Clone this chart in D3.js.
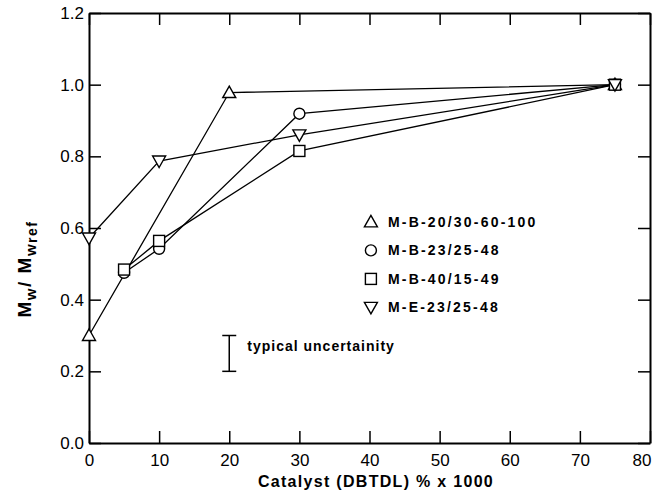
<!DOCTYPE html>
<html>
<head>
<meta charset="utf-8">
<script src="https://cdn.jsdelivr.net/npm/d3@7"></script>
<style>
    body { margin: 0; background: #fff; }
    text { font-family: "Liberation Sans", Arial, sans-serif; fill: #000; }
</style>
</head>
<body>
<div id="chart"></div>
<script>
// data
const seriesNames = ["M-B-20/30-60-100", "M-B-23/25-48", "M-B-40/15-49", "M-E-23/25-48"];
const seriesSymbols = ["triangle", "circle", "square", "triangleDown"];
const triX = [0, 20, 75];
const triY = [0.30, 0.978, 1.0];
const circX = [5, 10, 30, 75];
const circY = [0.475, 0.542, 0.919, 1.0];
const sqX = [5, 10, 30, 75];
const sqY = [0.484, 0.564, 0.815, 1.0];
const invX = [0, 10, 30, 75];
const invY = [0.572, 0.787, 0.86, 1.0];
const xTicks = [0, 10, 20, 30, 40, 50, 60, 70, 80];
const yTicks = [0.0, 0.2, 0.4, 0.6, 0.8, 1.0, 1.2];
const errX = 20, errLow = 0.2, errHigh = 0.3;

const margin = {top: 13, right: 5, bottom: 56, left: 89},
    width = 655 - margin.left - margin.right,
    height = 499 - margin.top - margin.bottom;

const svg = d3.select("#chart")
    .append("svg")
    .attr("width", 655)
    .attr("height", 499)
    .append("g")
    .attr("transform", `translate(${margin.left}, ${margin.top})`);

const x = d3.scaleLinear().domain([0, 80]).range([0, width]);
const y = d3.scaleLinear().domain([0, 1.2]).range([height, 0]);

// axes, ticks pointing inward on all four sides
svg.append("g")
    .attr("transform", `translate(0, ${height})`)
    .call(d3.axisBottom(x).tickValues(xTicks).tickSizeInner(-12).tickSizeOuter(0).tickPadding(11).tickFormat(d3.format("d")))
    .call(g => g.selectAll("text").style("font-size", "17px"))
    .call(g => g.selectAll(".tick").filter(d => d === 80).select("text").attr("text-anchor", "end").attr("x", 1));
svg.append("g")
    .call(d3.axisTop(x).tickValues(xTicks).tickSizeInner(-12).tickSizeOuter(0).tickFormat(""));
svg.append("g")
    .call(d3.axisLeft(y).tickValues(yTicks).tickSizeInner(-12).tickSizeOuter(0).tickPadding(5).tickFormat(d3.format(".1f")))
    .call(g => g.selectAll("text").style("font-size", "17px"));
svg.append("g")
    .attr("transform", `translate(${width}, 0)`)
    .call(d3.axisRight(y).tickValues(yTicks).tickSizeInner(-12).tickSizeOuter(0).tickFormat(""));

svg.selectAll(".domain").attr("stroke-width", 2).attr("stroke", "#000");
svg.selectAll(".tick line").attr("stroke-width", 1.5).attr("stroke", "#000");
svg.selectAll(".tick text").style("font-family", "'Liberation Sans', Arial, sans-serif");

// series
const series = [
    {name: seriesNames[0], sym: seriesSymbols[0], xs: triX, ys: triY},
    {name: seriesNames[1], sym: seriesSymbols[1], xs: circX, ys: circY},
    {name: seriesNames[2], sym: seriesSymbols[2], xs: sqX, ys: sqY},
    {name: seriesNames[3], sym: seriesSymbols[3], xs: invX, ys: invY}
];

const line = d3.line()
    .x(d => x(d[0]))
    .y(d => y(d[1]));

series.forEach(s => {
    const pts = s.xs.map((v, i) => [v, s.ys[i]]);
    svg.append("path")
        .datum(pts)
        .attr("fill", "none")
        .attr("stroke", "#000")
        .attr("stroke-width", 1.3)
        .attr("d", line);
});

function marker(g, sym) {
    if (sym === "circle") {
        g.append("circle").attr("r", 5.5);
    } else if (sym === "square") {
        g.append("rect").attr("x", -5.5).attr("y", -5.5).attr("width", 11).attr("height", 11);
    } else if (sym === "triangle") {
        g.append("path").attr("d", "M0,-6.5L6.5,5L-6.5,5Z");
    } else {
        g.append("path").attr("d", "M0,6.5L6.5,-5L-6.5,-5Z");
    }
    g.selectAll("*").attr("fill", "#fff").attr("stroke", "#000").attr("stroke-width", 1.4);
}

series.forEach(s => {
    s.xs.forEach((v, i) => {
        const g = svg.append("g").attr("transform", `translate(${x(v)}, ${y(s.ys[i])})`);
        marker(g, s.sym);
    });
});

// legend
const legend = svg.append("g").attr("transform", `translate(${x(40.2)}, ${y(0.617)})`);
series.forEach((s, i) => {
    const g = legend.append("g").attr("transform", `translate(0, ${i * 28.5})`);
    marker(g, s.sym);
    g.append("text")
        .attr("x", 17)
        .attr("y", 5)
        .style("font-size", "14px")
        .style("letter-spacing", "2.2px")
        .style("font-weight", "bold")
        .text(s.name);
});

// typical uncertainty bar
svg.append("line")
    .attr("x1", x(errX)).attr("x2", x(errX))
    .attr("y1", y(errLow)).attr("y2", y(errHigh))
    .attr("stroke", "#000").attr("stroke-width", 1.5);
[errLow, errHigh].forEach(v => {
    svg.append("line")
        .attr("x1", x(errX) - 7).attr("x2", x(errX) + 7)
        .attr("y1", y(v)).attr("y2", y(v))
        .attr("stroke", "#000").attr("stroke-width", 1.5);
});
svg.append("text")
    .attr("x", x(errX) + 18)
    .attr("y", y((errLow + errHigh) / 2) - 2)
    .style("font-size", "14px")
    .style("letter-spacing", "1px")
    .style("font-weight", "bold")
    .text("typical uncertainity");

// axis labels
svg.append("text")
    .attr("text-anchor", "middle")
    .attr("x", 287)
    .attr("y", height + 44)
    .style("font-size", "16px")
    .style("font-weight", "bold")
    .style("letter-spacing", "1.3px")
    .text("Catalyst (DBTDL) % x 1000");

const yl = svg.append("text")
    .attr("text-anchor", "middle")
    .attr("transform", `translate(${-58}, ${256}) rotate(-90)`)
    .style("font-size", "19px")
    .style("font-weight", "bold")
    .style("letter-spacing", "1.5px");
yl.append("tspan").text("M");
yl.append("tspan").attr("dy", 5).style("font-size", "15px").text("w");
yl.append("tspan").attr("dy", -5).text("/ M");
yl.append("tspan").attr("dy", 5).style("font-size", "15px").text("w");
yl.append("tspan").attr("dy", 1).style("font-size", "14px").text("ref");
</script>
</body>
</html>
